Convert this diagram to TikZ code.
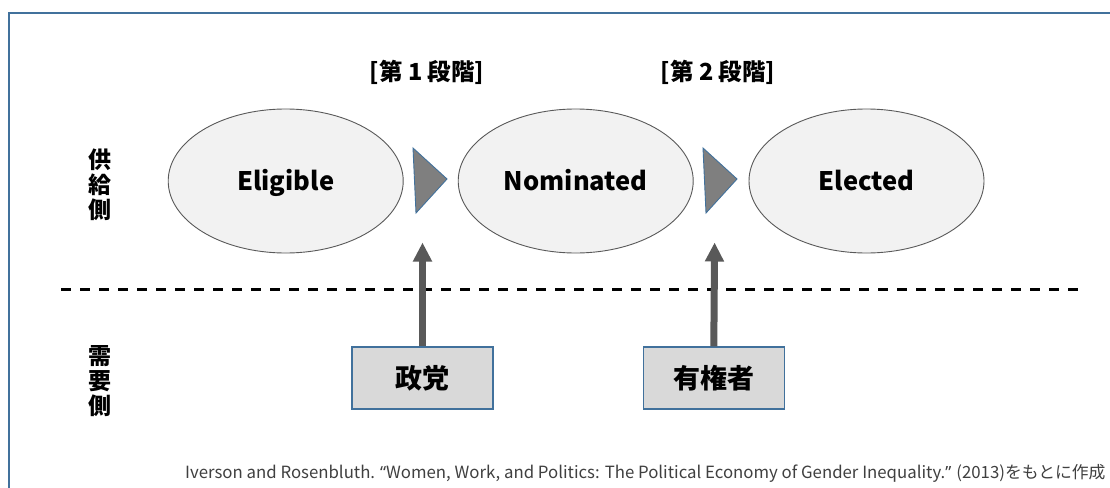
\documentclass[tikz,border=0pt]{standalone}
\usepackage{fontspec}
\setmainfont{Noto Sans CJK JP}
\newfontfamily\qfont{Noto Sans}
\usetikzlibrary{arrows.meta,shapes.geometric}
\definecolor{frameblue}{HTML}{41719C}
\definecolor{ellfill}{HTML}{F2F2F2}
\definecolor{ellline}{HTML}{595959}
\definecolor{trifill}{HTML}{7F7F7F}
\definecolor{arrgray}{HTML}{595959}
\definecolor{boxfill}{HTML}{D9D9D9}
\definecolor{notegray}{HTML}{404040}
\tikzset{
  stage/.style={ellipse, draw=ellline, line width=0.9pt, fill=ellfill,
    minimum width=235pt, minimum height=144pt, inner sep=0pt,
    text height=20pt, text depth=2pt,
    font=\fontsize{25.5}{25.5}\selectfont\bfseries},
  actor/.style={rectangle, draw=frameblue, line width=1.6pt, fill=boxfill,
    minimum width=141pt, minimum height=62pt, inner sep=0pt,
    font=\fontsize{27}{27}\selectfont\bfseries},
  steplabel/.style={font=\fontsize{23.5}{23.5}\selectfont\bfseries},
  sidelabel/.style={font=\fontsize{23}{25}\selectfont\bfseries, align=center},
  tri/.style={fill=trifill, draw=frameblue, line width=0.9pt, line join=miter},
  uparrow/.style={draw=arrgray, line width=7pt, -{Triangle[width=18pt,length=19pt]}},
  divider/.style={draw=black, line width=2.8pt, dash pattern=on 10pt off 9pt}
}
\begin{document}
\begin{tikzpicture}[x=1pt,y=-1pt]
\useasboundingbox (0,0) rectangle (1110,487);
\fill[white] (0,0) rectangle (1110,487);
% frame
\draw[frameblue, line width=2pt] (9,520) -- (9,13.5) -- (1130,13.5);
% stage labels
\node[steplabel] (s1) at (427,72) {[第 1 段階]};
\node[steplabel] (s2) at (718,72) {[第 2 段階]};
% side labels
\node[sidelabel] (supply) at (100,185) {供\\給\\側};
\node[sidelabel] (demand) at (100,381.5) {需\\要\\側};
% ellipses
\node[stage] (elig) at (285.7,181) {Eligible};
\node[stage] (nom) at (575.7,181) {Nominated};
\node[stage] (elec) at (866.5,181) {Elected};
% triangles
\draw[tri] (413,148) -- (447,179) -- (416,213) -- cycle;
\draw[tri] (703,148) -- (737,179) -- (706,213) -- cycle;
% divider
\coordinate (dl) at (61,289.5);
\coordinate (dr) at (1079,289.5);
\draw[divider] (dl) -- (dr);
% boxes
\node[actor] (party) at (422.5,378.2) {政党};
\node[actor] (voter) at (713.8,378.2) {有権者};
% arrows
\coordinate (t1) at (422.5,242.5);
\coordinate (t2) at (714.6,242.5);
\draw[uparrow] (party.north) -- (t1);
\draw[uparrow] (voter.north) -- (t2);
% note
\node[anchor=west, text=notegray, font=\fontsize{16.8}{16.8}\selectfont, inner sep=0pt] (note) at (185,473)
  {Iverson and Rosenbluth. {\qfont “}Women, Work, and Politics: The Political Economy of Gender Inequality.{\qfont ”} (2013)をもとに作成};
\end{tikzpicture}
\end{document}
